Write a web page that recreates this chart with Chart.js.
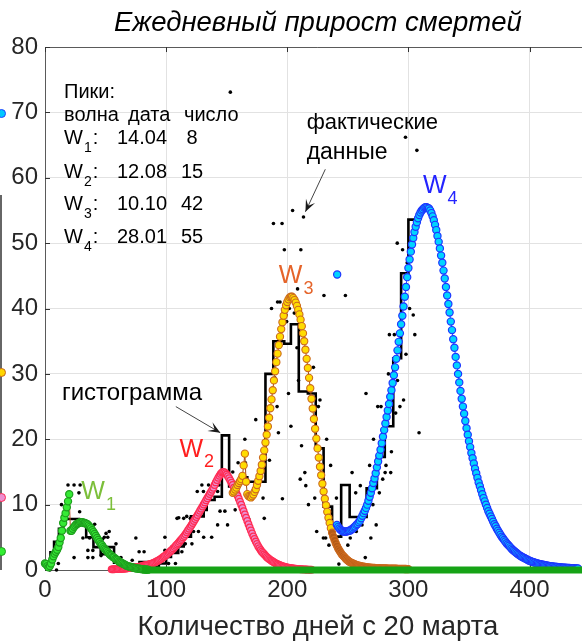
<!DOCTYPE html>
<html><head><meta charset="utf-8">
<script src="https://cdn.jsdelivr.net/npm/chart.js@4.4.1/dist/chart.umd.min.js"></script>
<style>
html,body{margin:0;padding:0;background:#fff;overflow:hidden;}
#wrap{position:relative;width:582px;height:644px;overflow:hidden;}
canvas{display:block;}
.edge{position:absolute;left:0;top:195px;width:2px;height:375px;background:#666;}
.ed{position:absolute;width:7px;height:7px;border-radius:50%;left:-3px;}
</style></head><body>
<div id="wrap"><canvas id="c" width="596" height="644"></canvas>
<div class="edge"></div>
<div class="ed" style="top:109px;background:#00c8ff;border:1px solid #2040ff"></div>
<div class="ed" style="top:368px;background:#ffd600;border:1px solid #c8661c"></div>
<div class="ed" style="top:493px;background:#ec8fd0;border:1px solid #ff2d55"></div>
<div class="ed" style="top:547px;background:#33ee33;border:1px solid #1e9e1e"></div>
</div>
<script>
// ---------- DATA ----------
const xTicks = [0, 100, 200, 300, 400];
const yTicks = [0, 10, 20, 30, 40, 50, 60, 70, 80];

// actual daily data (black dots)
const dotDays = [4,9.5,6.3,11,13.6,19,24,29,28,28.6,41,39.5,53,31.3,36.8,49,51.8,75,35.4,39.5,58.6,77.7,81.8,24,35.4,39.5,46.3,62.7,72,47.4,50.4,64,68,86,90,70,
 99,99,100.8,102,107.7,107.6,113,105,115.8,121.3,109,114.5,120,125.3,122.6,126.7,131,137.6,125.7,130.8,136.3,142.5,129.5,135,143.6,144.5,148.5,142.5,150.7,155,159.4,165.4,168,165,174,180,181,185.3,192.7,196,203,117,110.4,157,163,153,
 187,192,194,201.7,199,205.8,199.5,208,221.6,209.3,189.7,201,227,191.6,208.5,230.3,248,188.6,195.7,197.6,211.2,204.4,213.4,225.7,232.5,211.8,214.5,210.7,215.3,222.7,217.5,224.3,229.8,231.7,234.4,241.8,244,242.6,
 290.8,295.2,297.6,307,299,301,304,284.3,288.4,305.3,298,283.5,291,265,296,274.7,277.4,293,289.5,282,308.8,271.2,286,235.8,268,274,281.5,253.5,280.8,285.4,278.8,260.3,256.5,276,240.6,270.7,273.4,261.7,257,252,269,250,264.4,257];
const dotVals = [0,0,0.9,1,10,13,13,13,11.8,8.9,7,5.9,5.9,4.9,4.9,5,5,4.9,3,3,4,2.8,2.8,1.9,1.9,1.9,2.2,1.9,1.5,4.7,5.6,0,0,0,0,0,
 5,3,2,1,1,2.8,2.8,3.6,4,4,7.9,7.9,7.9,7.9,5.9,5.9,5,5,12,12,12,12,13,13,13,9,9,6.9,6.9,15,16.4,16.4,7.9,20,23,11,7.9,16.8,21,10.9,22,8.2,8,9.2,8.7,73.1,
 40,41,41,40,39,39.3,38,34,31,29,29.4,27,26,25,43,42,42,53,53,49,49,55,54,25,20,19,14.9,13.9,12.9,11,10,5.9,4.9,4.9,3.8,2.8,2.8,0.9,
 50,49,66.2,64.2,47,40,39,36,36,36,33,30,29,27,26,25,25,25,24,23.9,21,20,18.1,16,16,16,16,14.9,14.9,14.9,13.9,12.9,11.8,11.8,11,10,6.9,6.9,5.9,4.9,4.9,3.8,1.9,0.9];

// histogram (stairs): bin start day -> value
const histDays = [0,4.5,7.5,11.5,15,28,34,40,46,52,57,62,68,78,86,94,100,104,110,114.5,120.5,131,133.5,140,146,152,160.5,167,182,188.5,197.5,203,209.5,217,223.5,230,237,244.5,251.5,265.5,274,280.5,287.5,294,300,306.6];
const histVals = [0.8,2.7,4.3,6.3,7.8,7.2,5.0,3.5,2.4,3.5,1.1,0.3,0.8,1.2,0.5,1.0,2.0,2.6,3.6,5.1,8.2,9.2,10.7,11.2,20.6,12.8,14.2,13.5,30,35,34.6,37.6,27.3,27.0,18.6,9.7,5.1,13.0,8.1,12.5,17.3,22.0,32.4,45.4,53.6,53.6];

// wave fits, one value per day starting at the given day
const w1Start = 0;
const w1Values = [1.0,0.9,0.6,0.4,0.6,1.0,1.6,2.1,2.5,2.8,
 3.1,3.5,4.2,4.9,6.0,7.2,8.0,8.7,9.6,10.5,
 11.6,6.0,6.0,6.3,6.6,6.8,7.0,7.1,7.2,7.3,
 7.3,7.3,7.2,7.2,7.1,7.0,6.8,6.6,6.4,6.1,
 5.8,5.5,5.2,4.9,4.6,4.3,4.0,3.8,3.5,3.3,
 3.1,2.9,2.7,2.5,2.3,2.2,2.0,1.9,1.7,1.6,
 1.5,1.3,1.2,1.1,1.0,0.9,0.8,0.7,0.6,0.55,
 0.5,0.45,0.4,0.35,0.3,0.27,0.24,0.21,0.18,0.16,
 0.14,0.12,0.1,0.08,0.06,0.05];
const w1TailDays = [80, 455];
const w1TailVals = [0, 0];

const w2Start = 55;
const w2Values = [0.10,0.11,0.12,0.13,0.14, 0.15,0.16,0.17,0.18,0.19, 0.20,0.22,0.24,0.26,0.28, 0.30,0.32,0.34,0.36,0.38,
 0.40,0.44,0.48,0.52,0.56, 0.60,0.64,0.68,0.72,0.76, 0.80,0.86,0.92,0.98,1.04, 1.10,1.20,1.30,1.40,1.50,
 1.60,1.74,1.88,2.02,2.16, 2.30,2.46,2.62,2.78,2.94, 3.10,3.30,3.50,3.70,3.90, 4.10,4.32,4.54,4.76,4.98,
 5.20,5.48,5.76,6.04,6.32, 6.60,6.90,7.20,7.50,7.80, 8.10,8.42,8.74,9.06,9.38, 9.70,10.02,10.34,10.66,10.98,
 11.30,11.62,11.94,12.26,12.58, 13.0,13.4,13.75,14.1,14.4, 14.7,14.9,15.0,14.95,14.8, 14.6,14.35,14.05,13.7,13.35,
 13.0,12.6,12.2,11.8,11.35, 10.9,10.45,10.0,9.5,9.0, 8.5,8.0,7.5,7.0,6.5, 6.05,5.6,5.15,4.75,4.35,
 4.0,3.65,3.35,3.05,2.8, 2.6,2.4,2.2,2.0,1.85, 1.7,1.55,1.42,1.3,1.18, 1.07,0.97,0.88,0.80,0.72,
 0.65,0.59,0.53,0.48,0.43, 0.39,0.35,0.32,0.29,0.26, 0.23,0.21,0.19,0.17,0.15, 0.14,0.12,0.11,0.10,0.09,
 0.08,0.07,0.06,0.06,0.05,0.05];

const w3Start = 155;
const w3Values = [11.8,12.0,12.3,12.6,13.0, 13.3,13.6,13.9,14.4,16.0, 17.8,13.5,11.6,11.3,11.2, 11.1,11.3,11.55,11.95,12.35,
 13.0,13.65,14.35,15.15,16.1, 17.2,18.3,19.5,20.7,21.95, 23.3,24.75,26.1,27.5,29.0, 30.4,31.8,33.1,34.4,35.7,
 36.85,37.9,38.9,39.8,40.5, 41.0,41.4,41.7,41.8,41.8, 41.6,41.3,40.9,40.4,39.8, 39.1,38.3,37.3,36.2,35.0,
 33.7,32.3,30.9,29.4,27.8, 26.2,24.7,23.1,21.6,20.1, 18.6,17.2,15.8,14.5,13.2, 12.0,10.9,9.9,8.9,8.0,
 7.2,6.4,5.7,5.1,4.6, 4.1,3.7,3.3,3.0,2.7, 2.4,2.2,2.0,1.8,1.6, 1.45,1.3,1.2,1.1,1.0,
 0.92,0.85,0.78,0.72,0.66, 0.61,0.57,0.53,0.5,0.47, 0.44,0.41,0.39,0.37,0.35, 0.33,0.32,0.31,0.30,0.29,
 0.28,0.27,0.26,0.25,0.25, 0.24,0.23,0.23,0.22,0.22, 0.21,0.21,0.2,0.2,0.19, 0.19,0.18,0.18,0.17,0.17,
 0.16,0.16,0.15,0.15,0.14,0.14];

const w4Start = 241;
const w4Values = [6.9,6.6,6.35,6.15,6.0, 5.9,5.9,5.85,5.9,5.95, 6.0,6.05,6.2,6.3,6.5, 6.65,6.9,7.05,7.3,7.55,
 7.9,8.3,8.7,9.05,9.5, 10.0,10.6,11.2,11.8,12.5, 13.3,14.0,14.8,15.7,16.6, 17.5,18.4,19.4,20.4,21.4,
 22.4,23.4,24.4,25.4,26.5, 27.5,28.6,29.8,31.0,32.3, 33.6,34.9,36.2,37.6,38.9, 40.3,41.8,43.3,44.8,46.2,
 47.5,48.7,49.8,50.8,51.7, 52.5,53.2,53.8,54.3,54.7, 55.0,55.2,55.4,55.5,55.5, 55.4,55.3,55.0,54.6,54.1,
 53.5,52.8,52.0,51.1,50.2, 49.2,48.1,47.0,45.8,44.6, 43.3,42.0,40.7,39.4,38.0, 36.7,35.3,34.0,32.6,31.3,
 30.0,28.7,27.4,26.2,25.0, 23.9,22.8,21.7,20.7,19.7, 18.8,17.9,17.1,16.3,15.5, 14.8,14.1,13.4,12.8,12.2,
 11.6,11.0,10.5,10.0,9.5, 9.0,8.6,8.2,7.8,7.4, 7.0,6.7,6.3,6.0,5.7, 5.4,5.1,4.85,4.6,4.35,
 4.1,3.9,3.7,3.5,3.3, 3.1,2.95,2.8,2.65,2.5, 2.35,2.2,2.1,2.0,1.9, 1.8,1.7,1.6,1.5,1.42,
 1.35,1.28,1.21,1.15,1.09, 1.03,0.98,0.93,0.88,0.84, 0.8,0.76,0.72,0.69,0.66, 0.63,0.6,0.57,0.55,0.52,
 0.5,0.48,0.46,0.44,0.42, 0.4,0.38,0.37,0.35,0.34, 0.33,0.31,0.3,0.29,0.28, 0.27,0.26,0.25,0.24,0.23];
const w4ExtraDays = [241.2];
const w4ExtraVals = [45.2];

// peak table
const waveIds = ['1', '2', '3', '4'];
const peakDates = ['14.04', '12.08', '10.10', '28.01'];
const peakCounts = ['8', '15', '42', '55'];

// ---------- BUILD ----------
const FONT = '"Liberation Sans", Arial, Helvetica, sans-serif';
const daily = (start, vals) => vals.map((v, i) => ({x: start + i, y: v}));
const pairs = (xs, ys) => xs.map((d, i) => ({x: d, y: ys[i]}));

function txt(ctx, s, px, py, size, color, align, style) {
  ctx.font = (style || '') + ' ' + size + 'px ' + FONT;
  ctx.fillStyle = color; ctx.textAlign = align || 'left'; ctx.textBaseline = 'middle';
  ctx.fillText(s, px, py);
  return ctx.measureText(s).width;
}
function wLabel(ctx, px, py, sub, size, subSize, color, suffix) {
  const w = txt(ctx, 'W', px, py, size, color);
  const ws = txt(ctx, sub, px + w + 1, py + size * 0.5, subSize, color);
  if (suffix) txt(ctx, suffix, px + w + ws + 2, py, size, color);
}
function arrow(ctx, x1, y1, x2, y2) {
  ctx.strokeStyle = '#444'; ctx.fillStyle = '#1a1a1a'; ctx.lineWidth = 1;
  ctx.beginPath(); ctx.moveTo(x1, y1); ctx.lineTo(x2, y2); ctx.stroke();
  const a = Math.atan2(y2 - y1, x2 - x1), L = 12, W = 5;
  const c = Math.cos(a), s = Math.sin(a);
  ctx.beginPath(); ctx.moveTo(x2, y2);
  ctx.lineTo(x2 - L * c + W * s, y2 - L * s - W * c);
  ctx.lineTo(x2 - 0.55 * L * c, y2 - 0.55 * L * s);
  ctx.lineTo(x2 - L * c - W * s, y2 - L * s + W * c);
  ctx.closePath(); ctx.fill();
}

const frame = {
  id: 'frame',
  beforeDatasetsDraw(chart) {
    const {ctx, chartArea: a, scales: {x, y}} = chart;
    ctx.save();
    ctx.strokeStyle = '#5a5a5a'; ctx.lineWidth = 1;
    ctx.beginPath(); ctx.moveTo(a.left, Math.round(a.top) + 0.5); ctx.lineTo(a.right, Math.round(a.top) + 0.5); ctx.stroke();
    ctx.strokeStyle = '#333';
    x.ticks.forEach(t => {
      const px = Math.round(x.getPixelForValue(t.value)) + 0.5;
      ctx.beginPath(); ctx.moveTo(px, a.top); ctx.lineTo(px, a.top + 5);
      ctx.moveTo(px, a.bottom); ctx.lineTo(px, a.bottom - 5); ctx.stroke();
    });
    y.ticks.forEach(t => {
      const py = Math.round(y.getPixelForValue(t.value)) + 0.5;
      ctx.beginPath(); ctx.moveTo(a.left, py); ctx.lineTo(a.left + 5, py); ctx.stroke();
    });
    ctx.restore();
  },
  afterDatasetsDraw(chart) {
    const {ctx, chartArea: a, scales: {x, y}} = chart;
    const X = v => x.getPixelForValue(v), Y = v => y.getPixelForValue(v);
    ctx.save();
    // peak table
    const L = a.left + 19, T = a.top;
    txt(ctx, 'Пики:', L, T + 45, 20, '#000');
    txt(ctx, 'волна', L, T + 68, 20, '#000');
    txt(ctx, 'дата', L + 64, T + 68, 20, '#000');
    txt(ctx, 'число', L + 120, T + 68, 20, '#000');
    const rowsY = [91, 125, 157, 190];
    waveIds.forEach((id, i) => {
      wLabel(ctx, L, T + rowsY[i], id, 20, 14, '#000', ':');
      txt(ctx, peakDates[i], L + 53, T + rowsY[i], 20, '#000');
      txt(ctx, peakCounts[i], L + 128, T + rowsY[i], 20, '#000', 'center');
    });
    // wave labels
    wLabel(ctx, X(30), Y(11.9), '1', 25, 18, '#7cbf3a');
    wLabel(ctx, X(111), Y(18.4), '2', 25, 18, '#ff1f1f');
    wLabel(ctx, X(193), Y(44.9), '3', 25, 18, '#e5642a');
    wLabel(ctx, X(312), Y(58.7), '4', 25, 18, '#2424ff');
    // annotations
    txt(ctx, 'гистограмма', X(14), Y(27.0), 24, '#000');
    arrow(ctx, X(108), Y(25), X(144.7), Y(21));
    txt(ctx, 'фактические', X(216), Y(68.4), 22, '#000');
    txt(ctx, 'данные', X(216), Y(63.9), 23, '#000');
    arrow(ctx, X(231.4), Y(61.3), X(215), Y(54.8));
    ctx.restore();
  }
};

Chart.defaults.font.family = FONT;
new Chart(document.getElementById('c'), {
  type: 'line',
  data: {
    datasets: [
      { label: 'W1 tail', data: pairs(w1TailDays, w1TailVals), borderColor: '#16a316', borderWidth: 7,
        pointRadius: 0, clip: false, order: 1 },
      { label: 'W1', data: daily(w1Start, w1Values), borderColor: '#c0502a', borderWidth: 1,
        pointRadius: 3.6, pointBackgroundColor: '#35ea35', pointBorderColor: '#1e9e1e', pointBorderWidth: 1.2,
        clip: false, order: 2 },
      { label: 'W4', data: daily(w4Start, w4Values), borderColor: '#2040ff', borderWidth: 1,
        pointRadius: 3.6, pointBackgroundColor: '#00d4ff', pointBorderColor: '#1f35ff', pointBorderWidth: 1.2,
        clip: false, order: 3 },
      { label: 'W4 extra', data: pairs(w4ExtraDays, w4ExtraVals), showLine: false,
        pointRadius: 3.6, pointBackgroundColor: '#00d4ff', pointBorderColor: '#1f35ff', pointBorderWidth: 1.2,
        clip: false, order: 3 },
      { label: 'W3', data: daily(w3Start, w3Values), borderColor: '#a04a12', borderWidth: 1,
        pointRadius: 3.6,
        pointBackgroundColor: c => (c.raw && c.raw.y < 6) ? '#b45a16' : '#ffdc00',
        pointBorderColor: '#cc6a1e', pointBorderWidth: 1.1,
        clip: false, order: 4 },
      { label: 'W2', data: daily(w2Start, w2Values), borderColor: '#ff2a4a', borderWidth: 1,
        pointRadius: 3.3, pointBackgroundColor: '#ec8fd0', pointBorderColor: '#ff2d55', pointBorderWidth: 1.3,
        clip: false, order: 5 },
      { label: 'histogram', data: pairs(histDays, histVals), stepped: 'before', borderColor: '#000',
        borderWidth: 2.6, pointRadius: 0, clip: false, order: 8 },
      { label: 'data', data: pairs(dotDays, dotVals), showLine: false, pointRadius: 1.8,
        pointBackgroundColor: '#000', pointBorderWidth: 0, clip: false, order: 9 }
    ]
  },
  options: {
    responsive: false, animation: false, events: [],
    layout: { padding: 0 },
    plugins: {
      legend: { display: false }, tooltip: { enabled: false },
      title: { display: true, text: 'Ежедневный прирост смертей', fullSize: false, color: '#000',
        font: { size: 27.5, style: 'italic', weight: 'normal', lineHeight: 1.1 }, padding: { top: 8, bottom: 8.8 } }
    },
    scales: {
      x: { type: 'linear', min: 0, max: 450.5,
        afterBuildTicks: s => { s.ticks = xTicks.map(v => ({value: v})); },
        ticks: { includeBounds: false, color: '#262626', font: { size: 24 }, padding: 6, maxRotation: 0 },
        grid: { color: '#e2e2e2', drawTicks: false, tickLength: 0 },
        border: { color: '#5a5a5a', width: 1 },
        title: { display: true, text: 'Количество дней с 20 марта', color: '#262626', font: { size: 27.5 },
          padding: { top: 2, bottom: 0 } },
        afterFit: s => { s.height = 74; } },
      y: { min: 0, max: 80,
        afterBuildTicks: s => { s.ticks = yTicks.map(v => ({value: v})); },
        ticks: { color: '#262626', font: { size: 24 }, padding: 7 },
        grid: { color: '#e2e2e2', drawTicks: false, tickLength: 0 },
        border: { color: '#5a5a5a', width: 1 },
        afterFit: s => { s.width = 45; } }
    }
  },
  plugins: [frame]
});
</script>
</body></html>
